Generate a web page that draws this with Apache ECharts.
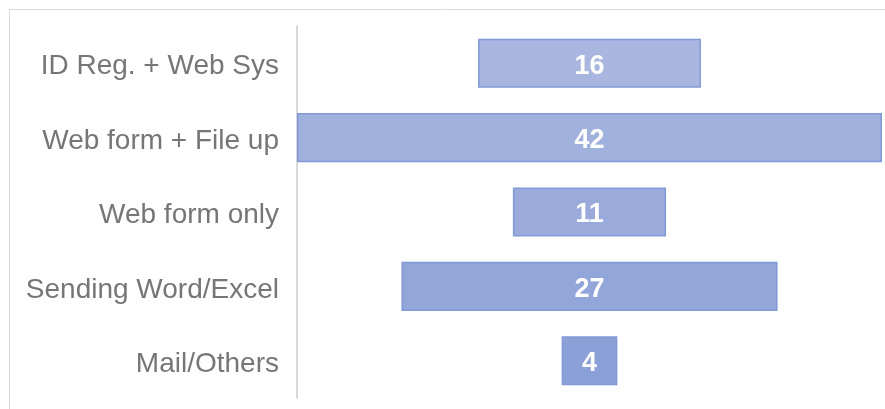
<!DOCTYPE html>
<html>
<head>
<meta charset="utf-8">
<script src="https://cdn.jsdelivr.net/npm/echarts@6/dist/echarts.min.js"></script>
<style>
  html, body { margin: 0; padding: 0; background: #ffffff; }
  #chart { width: 885px; height: 409px; }
</style>
</head>
<body>
<div id="chart"></div>
<script>
// Submission channels and their counts
const categories = ['ID Reg. + Web Sys', 'Web form + File up', 'Web form only', 'Sending Word/Excel', 'Mail/Others'];
const counts = [16, 42, 11, 27, 4];
const barColors = ['#a8b6e0', '#a1b1dd', '#9aabdb', '#92a6d9', '#8ba0d6'];

const maxCount = Math.max.apply(null, counts);
// Transparent spacer so every bar is centred on the same axis
const spacer = counts.map(v => (maxCount - v) / 2);

const chart = echarts.init(document.getElementById('chart'));
chart.setOption({
  animation: false,
  backgroundColor: '#ffffff',
  graphic: [{
    type: 'rect',
    shape: { x: 9.5, y: 9.5, width: 1000, height: 1000 },
    style: { fill: 'none', stroke: '#d9d9d9', lineWidth: 1 },
    silent: true,
    z: -1
  }],
  grid: { left: 297, right: 3, top: 26, bottom: 11, containLabel: false },
  xAxis: { type: 'value', min: 0, max: maxCount, show: false },
  yAxis: {
    type: 'category',
    data: categories,
    inverse: true,
    axisLine: { show: true, lineStyle: { color: '#d9d9d9', width: 2 } },
    axisTick: { show: false },
    axisLabel: {
      color: '#767676',
      fontSize: 28,
      fontFamily: 'Liberation Sans, Arial, sans-serif',
      margin: 18,
      verticalAlign: 'top',
      lineHeight: 7
    }
  },
  series: [
    {
      type: 'bar',
      stack: 'funnel',
      data: spacer,
      barWidth: '66%',
      itemStyle: { color: 'transparent' },
      silent: true
    },
    {
      type: 'bar',
      stack: 'funnel',
      barWidth: '66%',
      data: counts.map((v, i) => ({
        value: v,
        itemStyle: { color: barColors[i] }
      })),
      itemStyle: { borderColor: '#8199d6', borderWidth: 1.5 },
      label: {
        show: true,
        position: 'inside',
        offset: [0, 3],
        color: '#ffffff',
        fontWeight: 'bold',
        fontSize: 27,
        fontFamily: 'Liberation Sans, Arial, sans-serif'
      }
    }
  ]
});
</script>
</body>
</html>
